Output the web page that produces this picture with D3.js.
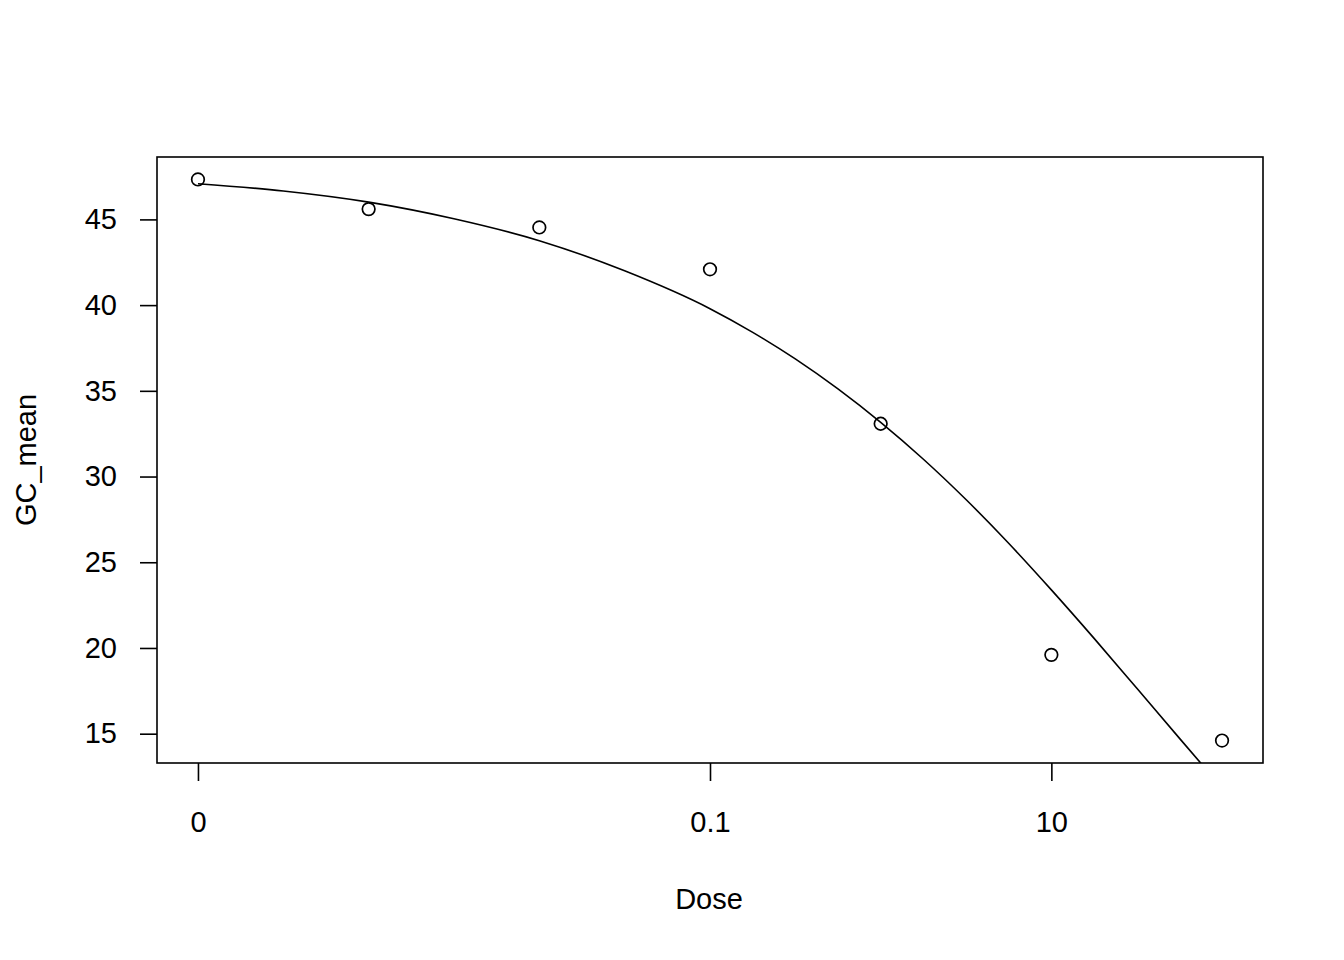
<!DOCTYPE html>
<html>
<head>
<meta charset="utf-8">
<script src="https://cdn.jsdelivr.net/npm/d3@7"></script>
<style>
  html, body { margin: 0; padding: 0; background: #fff; }
  svg { display: block; }
  text { font-family: "Liberation Sans", Arial, sans-serif; fill: #000; }
</style>
</head>
<body>
<script>
// Observed points (dose 0 is plotted at 1e-4 on the log axis, as drc does)
const doses = [0.0001, 0.001, 0.01, 0.1, 1, 10, 100];
const gcMean = [47.33, 45.6, 44.53, 42.09, 33.08, 19.6, 14.6];

// Fitted curve
const curveDoses = [0.0001, 0.000316, 0.001, 0.00316, 0.01, 0.0316, 0.1, 0.178, 0.316, 0.562, 1,
  1.78, 3.16, 5.62, 10, 17.8, 31.6, 56.2, 100];
const curveValues = [47.08, 46.66, 46.01, 45.04, 43.76, 42.0, 39.79, 38.41, 36.86, 35.11, 33.16,
  31.01, 28.66, 26.11, 23.39, 20.56, 17.66, 14.74, 11.84];

// Axis ticks
const xTickValues = [0.0001, 0.1, 10];
const xTickLabels = ["0", "0.1", "10"];
const yTickValues = [15, 20, 25, 30, 35, 40, 45];

(function () {
const W = 1344, H = 960;
const mLeft = 157, mRight = 1263, mTop = 157, mBottom = 763;
const FS = 29;

const svg = d3.select("body").append("svg").attr("width", W).attr("height", H);

const x = d3.scaleLog()
  .domain([0.0001 * Math.pow(10, -0.24), 100 * Math.pow(10, 0.24)])
  .range([mLeft, mRight]);
const y = d3.scaleLinear()
  .domain([13.29, 48.64])
  .range([mBottom, mTop]);

svg.append("defs").append("clipPath").attr("id", "clip")
  .append("rect").attr("x", mLeft).attr("y", mTop)
  .attr("width", mRight - mLeft).attr("height", mBottom - mTop);

// Curve
const line = d3.line()
  .x((d, i) => x(curveDoses[i]))
  .y(d => y(d))
  .curve(d3.curveMonotoneX);
svg.append("path")
  .attr("clip-path", "url(#clip)")
  .attr("d", line(curveValues))
  .attr("fill", "none").attr("stroke", "#000").attr("stroke-width", 1.6);

// Points
svg.append("g").selectAll("circle").data(gcMean).join("circle")
  .attr("cx", (d, i) => x(doses[i]))
  .attr("cy", d => y(d))
  .attr("r", 6.3)
  .attr("fill", "none").attr("stroke", "#000").attr("stroke-width", 1.7);

// Box
svg.append("rect")
  .attr("x", mLeft).attr("y", mTop)
  .attr("width", mRight - mLeft).attr("height", mBottom - mTop)
  .attr("fill", "none").attr("stroke", "#000").attr("stroke-width", 1.6);

// X axis
const xAxis = d3.axisBottom(x)
  .tickValues(xTickValues)
  .tickFormat((d, i) => xTickLabels[i])
  .tickSize(18).tickPadding(30);
const gx = svg.append("g").attr("transform", `translate(0,${mBottom})`).call(xAxis);
gx.select(".domain").remove();
gx.selectAll(".tick line").attr("stroke", "#000").attr("stroke-width", 1.6);
gx.selectAll(".tick text").attr("font-size", FS).attr("font-family", "Liberation Sans, Arial, sans-serif").attr("fill", "#000");

// Y axis
const yAxis = d3.axisLeft(y)
  .tickValues(yTickValues)
  .tickSize(17).tickPadding(23);
const gy = svg.append("g").attr("transform", `translate(${mLeft},0)`).call(yAxis);
gy.select(".domain").remove();
gy.selectAll(".tick line").attr("stroke", "#000").attr("stroke-width", 1.6);
gy.selectAll(".tick text").attr("font-size", FS).attr("font-family", "Liberation Sans, Arial, sans-serif").attr("fill", "#000");

// Axis titles
svg.append("text")
  .attr("x", (mLeft + mRight) / 2 - 1).attr("y", 909)
  .attr("text-anchor", "middle").attr("font-size", FS)
  .text("Dose");
svg.append("text")
  .attr("transform", `translate(36,${(mTop + mBottom) / 2}) rotate(-90)`)
  .attr("text-anchor", "middle").attr("font-size", FS)
  .text("GC_mean");
})();
</script>
</body>
</html>
